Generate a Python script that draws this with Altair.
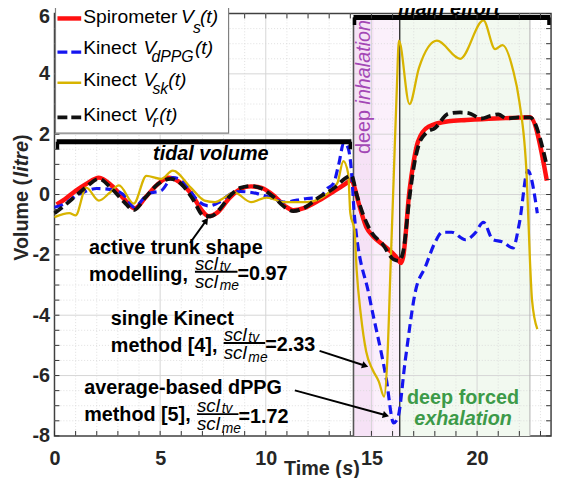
import altair as alt
import pandas as pd

FONT = "Liberation Sans"
W, H = 502, 427
X0, X1 = 0.0, 23.5
Y0, Y1 = -8.0, 6.0

# ---------------- data ----------------
spiro_t = [0.1, 0.5, 1.0, 1.5, 2.1, 2.7, 3.3, 3.8, 4.3, 4.9, 5.4, 5.9, 6.5, 7.0, 7.3, 7.7, 8.3, 8.8,
           9.3, 9.8, 10.4, 10.9, 11.3, 11.8, 12.5, 13.2, 13.9, 14.05, 14.2, 14.4, 14.75, 15.1, 15.55,
           16.15, 16.4, 16.5, 16.8, 17.0, 17.2, 17.7, 18.65, 19.5, 20.85, 21.7, 22.5, 23.3]
spiro_v = [-0.33, -0.15, 0.12, 0.35, 0.56, 0.3, -0.15, -0.46, -0.1, 0.35, 0.56, 0.42, 0.0, -0.55,
           -0.72, -0.6, -0.1, 0.18, 0.27, 0.22, -0.05, -0.38, -0.52, -0.45, -0.2, 0.1, 0.42, 0.5,
           0.23, -0.3, -1.07, -1.4, -1.67, -2.05, -2.27, -2.07, 0.13, 1.1, 1.75, 2.25, 2.43, 2.47,
           2.52, 2.54, 2.56, 0.46]

dppg_t = [0.0, 0.5, 1.0, 1.3, 2.0, 2.9, 3.4, 3.75, 4.45, 5.05, 5.6, 6.2, 6.65, 7.3, 7.8, 8.35, 8.8,
          9.6, 10.2, 10.85, 11.95, 12.55, 12.9, 13.2, 13.45, 13.7, 13.9, 14.05, 14.2, 14.9, 15.7,
          16.05, 16.25, 16.6, 17.1, 17.55, 18.0, 18.35, 18.8, 19.45, 19.9, 20.3, 20.75, 21.2, 21.7,
          22.0, 22.4, 22.85]
dppg_v = [-0.42, -0.3, -0.05, 0.05, 0.2, 0.13, -0.1, -0.42, 0.03, 0.13, 0.56, 0.36, -0.1, -0.38,
          -0.25, 0.03, 0.1, 0.03, -0.1, -0.25, -0.13, -0.1, 0.2, 0.36, 1.0, 1.72, 1.54, 0.8, -0.75,
          -3.38, -6.1, -7.57, -7.4, -5.5, -3.15, -2.4, -1.6, -1.25, -1.25, -1.5, -1.28, -0.92, -1.5,
          -1.57, -1.77, -0.95, 0.79, -0.62]

sk_t = [0.0, 0.7, 1.0, 1.5, 2.1, 2.6, 3.05, 3.75, 4.35, 5.05, 5.6, 6.45, 7.1, 7.6, 8.05, 8.5, 9.3,
        10.05, 10.85, 11.95, 13.0, 13.4, 13.67, 13.9, 14.0, 14.2, 14.3, 14.5, 14.75, 15.05, 15.35,
        15.6, 15.75, 15.9, 16.05, 16.2, 16.3, 16.8, 17.25, 18.1, 19.2, 20.3, 20.85, 21.2, 21.7,
        22.0, 22.35, 22.5, 22.6, 22.85]
sk_v = [-0.75, -0.62, -0.69, 0.23, -0.2, 0.05, 0.3, -0.3, 0.62, 0.52, 0.79, 0.23, -0.2, -0.25, -0.1,
        0.07, -0.25, -0.1, -0.25, -0.25, 0.07, 0.4, 1.11, 0.69, -0.62, -1.2, -2.5, -4.0, -5.2, -5.8,
        -6.2, -6.7, -5.5, -2.5, 0.5, 3.5, 5.1, 3.0, 4.2, 5.1, 4.5, 5.77, 4.82, 4.95, 4.13, 3.08,
        0.56, -2.16, -3.5, -4.46]

vr_t = [0.0, 0.5, 1.0, 1.5, 2.1, 2.7, 3.3, 3.75, 4.3, 4.9, 5.5, 6.0, 6.5, 7.1, 7.4, 7.8, 8.3, 8.8,
        9.3, 9.8, 10.4, 10.9, 11.3, 11.8, 12.5, 13.2, 13.9, 14.05, 14.3, 14.6, 15.0, 15.5, 16.05,
        16.3, 16.5, 16.8, 17.0, 17.25, 17.6, 18.0, 18.65, 19.2, 19.6, 20.2, 20.6, 21.0, 21.4, 22.0,
        22.5, 23.3]
vr_v = [-0.62, -0.35, -0.05, 0.25, 0.52, 0.2, -0.25, -0.52, -0.1, 0.35, 0.52, 0.35, -0.1, -0.72,
        -0.72, -0.5, -0.05, 0.22, 0.28, 0.2, -0.1, -0.42, -0.55, -0.45, -0.1, 0.2, 0.6, 0.64, 0.0,
        -0.65, -1.25, -1.62, -2.15, -2.2, -1.9, -0.1, 0.9, 1.67, 2.05, 2.2, 2.68, 2.72, 2.7, 2.52,
        2.6, 2.66, 2.52, 2.56, 2.56, 0.95]

x_major = [0, 5, 10, 15, 20]
y_major = [-8, -6, -4, -2, 0, 2, 4, 6]

# ---------------- helpers ----------------
PXX = W / (X1 - X0)
PXY = H / (Y1 - Y0)


def t_of(px):
    return (px - 55) / PXX


def v_of(py):
    return Y1 - (py - 11) / PXY


xs = alt.Scale(domain=[X0, X1], nice=False, zero=False)
ys = alt.Scale(domain=[Y0, Y1], nice=False, zero=False)
xax = alt.Axis(values=x_major, title=None, grid=False, tickSize=0, domain=False, labelFont=FONT,
               labelFontSize=20, labelFontWeight="bold", labelColor="#262626", labelPadding=13,
               labelFlush=False, labelExpr="toString(datum.value)")
yax = alt.Axis(values=y_major, title=None, grid=False, tickSize=0, domain=False, labelFont=FONT,
               labelFontSize=20, labelFontWeight="bold", labelColor="#262626", labelPadding=5,
               labelExpr="toString(datum.value)",
               labelOffset=alt.condition("datum.value == 6", alt.value(3), alt.value(0)))
X = alt.X("x:Q", scale=xs, axis=xax)
Y = alt.Y("y:Q", scale=ys, axis=yax)

layers = []

# background regions
bg = pd.DataFrame({"x": [14.15, 14.15, 16.34], "x2": [16.34, 15.1, 22.5],
                   "y": [Y0] * 3, "y2": [5.87, 5.87, 5.87],
                   "c": ["#fbf0fb", "#f6e2f6", "#f2f9f0"]})
layers.append(alt.Chart(bg).mark_rect().encode(x=X, x2="x2:Q", y=Y, y2="y2:Q",
                                               color=alt.Color("c:N", scale=None)))

# grid
minor_x = [i for i in range(0, 24) if i % 5 != 0]
minor_y = [Y0 + 0.5 * i for i in range(29) if (Y0 + 0.5 * i) % 2 != 0]
gx = pd.DataFrame({"x": minor_x, "y": Y0, "y2": Y1})
gy = pd.DataFrame({"y": minor_y, "x": X0, "x2": X1})
layers.append(alt.Chart(gx).mark_rule(color="#d8d8d8", strokeWidth=0.8, strokeDash=[1, 2])
              .encode(x=X, y=Y, y2="y2:Q"))
layers.append(alt.Chart(gy).mark_rule(color="#d8d8d8", strokeWidth=0.8, strokeDash=[1, 2])
              .encode(y=Y, x=X, x2="x2:Q"))
Gx = pd.DataFrame({"x": x_major[1:], "y": Y0, "y2": Y1})
Gy = pd.DataFrame({"y": y_major[1:-1], "x": X0, "x2": X1})
layers.append(alt.Chart(Gx).mark_rule(color="#d6d6d6", strokeWidth=1).encode(x=X, y=Y, y2="y2:Q"))
layers.append(alt.Chart(Gy).mark_rule(color="#d6d6d6", strokeWidth=1).encode(y=Y, x=X, x2="x2:Q"))

# vertical separators
vl = pd.DataFrame({"x": [14.15], "y": [Y0], "y2": [5.87]})
layers.append(alt.Chart(vl).mark_rule(color="#555555", strokeWidth=1.6).encode(x=X, y=Y, y2="y2:Q"))
vl2 = pd.DataFrame({"x": [16.34], "y": [Y0], "y2": [5.87]})
layers.append(alt.Chart(vl2).mark_rule(color="#111111", strokeWidth=1.2).encode(x=X, y=Y, y2="y2:Q"))
vl3 = pd.DataFrame({"x": [22.5], "y": [Y0], "y2": [Y1]})
layers.append(alt.Chart(vl3).mark_rule(color="#b0b0b0", strokeWidth=1).encode(x=X, y=Y, y2="y2:Q"))


# curves
def curve(t, v, color, width, dash=None):
    df = pd.DataFrame({"x": t, "y": v})
    kw = dict(color=color, strokeWidth=width, interpolate="monotone")
    if dash:
        kw["strokeDash"] = dash
    return alt.Chart(df).mark_line(**kw).encode(x=X, y=Y, order="x:Q")


layers.append(curve(spiro_t, spiro_v, "#ff1010", 4.5))
layers.append(curve(dppg_t, dppg_v, "#1515f0", 3.2, [9, 5]))
layers.append(curve(sk_t, sk_v, "#d8b400", 2.3))
layers.append(curve(vr_t, vr_v, "#111111", 3.8, [10, 5]))

# phase bars
bars = pd.DataFrame({"x": [0.1, 14.15], "x2": [14.05, 23.45], "y": [1.75, 5.87]})
layers.append(alt.Chart(bars).mark_rule(color="black", strokeWidth=5).encode(x=X, x2="x2:Q", y=Y))
caps = pd.DataFrame({"x": [0.14, 14.0, 14.2, 23.4], "y": [1.75, 1.75, 5.87, 5.87],
                     "y2": [1.5, 1.5, 5.62, 5.62]})
layers.append(alt.Chart(caps).mark_rule(color="black", strokeWidth=3.5).encode(x=X, y=Y, y2="y2:Q"))

# inner ticks
tl_x = 5 / PXX
tl_y = 5 / PXY
ty = [Y0 + 0.5 * i for i in range(29)]
tx = list(range(0, 24))
tk = pd.DataFrame({"x": [X0] * len(ty) + [X1 - tl_x] * len(ty),
                   "x2": [X0 + tl_x] * len(ty) + [X1] * len(ty),
                   "y": ty + ty})
layers.append(alt.Chart(tk).mark_rule(color="#333333", strokeWidth=1).encode(x=X, x2="x2:Q", y=Y))
tk2 = pd.DataFrame({"x": tx + tx, "y": [Y0] * len(tx) + [Y1 - tl_y] * len(tx),
                    "y2": [Y0 + tl_y] * len(tx) + [Y1] * len(tx)})
layers.append(alt.Chart(tk2).mark_rule(color="#333333", strokeWidth=1).encode(x=X, y=Y, y2="y2:Q"))


def txt(rows, size, weight="normal", style="normal", color="black", align="left", angle=0):
    df = pd.DataFrame(rows, columns=["px", "py", "label"])
    df["x"] = df["px"].map(t_of)
    df["y"] = df["py"].map(v_of)
    kw = dict(font=FONT, fontSize=size, fontWeight=weight, fontStyle=style, color=color,
              align=align, baseline="middle")
    if angle:
        kw["angle"] = angle
    return alt.Chart(df).mark_text(**kw).encode(x=X, y=Y, text="label:N")


def seg(rows, color="black", width=2, dash=None):
    df = pd.DataFrame(rows, columns=["px", "py", "px2", "py2"])
    df["x"] = df["px"].map(t_of)
    df["y"] = df["py"].map(v_of)
    df["x2"] = df["px2"].map(t_of)
    df["y2"] = df["py2"].map(v_of)
    kw = dict(color=color, strokeWidth=width)
    if dash:
        kw["strokeDash"] = dash
    return alt.Chart(df).mark_rule(**kw).encode(x=X, y=Y, x2="x2:Q", y2="y2:Q")


# legend box
lb = pd.DataFrame({"x": [t_of(56)], "x2": [t_of(231)], "y": [v_of(132)], "y2": [v_of(-4)]})
layers.append(alt.Chart(lb).mark_rect(fill="white", stroke="#808080", strokeWidth=1.2)
              .encode(x=X, x2="x2:Q", y=Y, y2="y2:Q"))
layers.append(seg([(58, 16, 82, 16)], color="#ff1010", width=4.5))
layers.append(seg([(58, 50, 82, 50)], color="#1515f0", width=3.2, dash=[10, 4]))
layers.append(seg([(58, 81, 82, 81)], color="#d8b400", width=2.5))
layers.append(seg([(58, 116, 82, 116)], color="#111111", width=3.8, dash=[10, 4]))

layers.append(txt([(84, 15, "Spirometer"), (84, 46, "Kinect"), (84, 78.5, "Kinect"),
                   (84, 113.5, "Kinect")], 19.5))
layers.append(txt([(183, 15, "V"), (202, 15, "(t)"), (145, 46, "V"), (197, 46, "(t)"),
                   (145, 78.5, "V"), (170, 78.5, "(t)"), (145, 113.5, "V"), (161, 113.5, "(t)")],
                  19.5, style="italic"))
layers.append(txt([(195, 25.5, "s"), (153, 55.5, "dPPG"), (154, 87.5, "sk"), (154, 121, "r")],
                  16, style="italic"))

# phase labels
layers.append(txt([(213, 153, "tidal volume"), (454, 6, "main effort")], 20, weight="bold",
                  style="italic", align="center"))
layers.append(txt([(368, 153, "deep")], 20, color="#a347b5", angle=270))
layers.append(txt([(368, 103, "inhalation")], 20, style="italic", color="#a347b5", angle=270))
layers.append(txt([(468, 400, "deep forced")], 20, weight="bold", color="#3c9a48", align="center"))
layers.append(txt([(468, 421, "exhalation")], 20, weight="bold", style="italic", color="#3c9a48",
                  align="center"))

# method annotations
layers.append(txt([(90, 248, "active trunk shape"), (90, 275, "modelling,"), (240, 274.5, "=0.97"),
                   (112, 320, "single Kinect"), (112, 347, "method [4],"), (268, 346.5, "=2.33"),
                   (85, 390, "average-based dPPG"), (85, 417, "method [5],"),
                   (241, 418.5, "=1.72")], 20, weight="bold"))
layers.append(txt([(197, 264, "scl"), (197, 282.5, "scl"), (226, 336, "scl"), (226, 354.5, "scl"),
                   (199, 408, "scl"), (199, 426.5, "scl")], 19, style="italic"))
layers.append(txt([(222, 267, "tv"), (222, 287, "me"), (251, 339, "tv"), (251, 359, "me"),
                   (224, 411, "tv"), (224, 431, "me")], 14, style="italic"))
layers.append(seg([(197, 272, 240, 272), (226, 344, 268, 344), (199, 416, 241, 416)], width=2))

# arrows
layers.append(seg([(192, 243, 208.3, 220.4), (323, 352, 369.1, 367.1),
                   (298, 392, 390.1, 417.2)], width=2))
ah = pd.DataFrame({"px": [208.3, 369.1, 390.1], "py": [220.4, 367.1, 417.2],
                   "ang": [35.8, 108.0, 105.3]})
ah["x"] = ah["px"].map(t_of)
ah["y"] = ah["py"].map(v_of)
layers.append(alt.Chart(ah).mark_point(shape="triangle-up", filled=True, size=55, color="black",
                                       opacity=1)
              .encode(x=X, y=Y, angle=alt.Angle("ang:Q", scale=None)))

# axis titles
layers.append(txt([(287, 472, "Time ("), (357, 472, ")")], 20, weight="bold", color="#262626"))
layers.append(txt([(346, 472, "s")], 20, weight="bold", style="italic", color="#262626"))
layers.append(txt([(22, 261, "Volume ("), (22, 140, ")")], 20, weight="bold", color="#262626",
                  angle=270))
layers.append(txt([(22, 176.5, "litre")], 20, weight="bold", style="italic", color="#262626",
                  angle=270))

chart = alt.layer(*layers).properties(
    width=W, height=H, autosize=alt.AutoSizeParams(type="none"),
    padding={"left": 47, "top": 3, "right": 5, "bottom": 40},
).configure_view(stroke="#404040", strokeWidth=1.5)

chart.save("out.html", embed_options={"renderer": "svg", "actions": False})
